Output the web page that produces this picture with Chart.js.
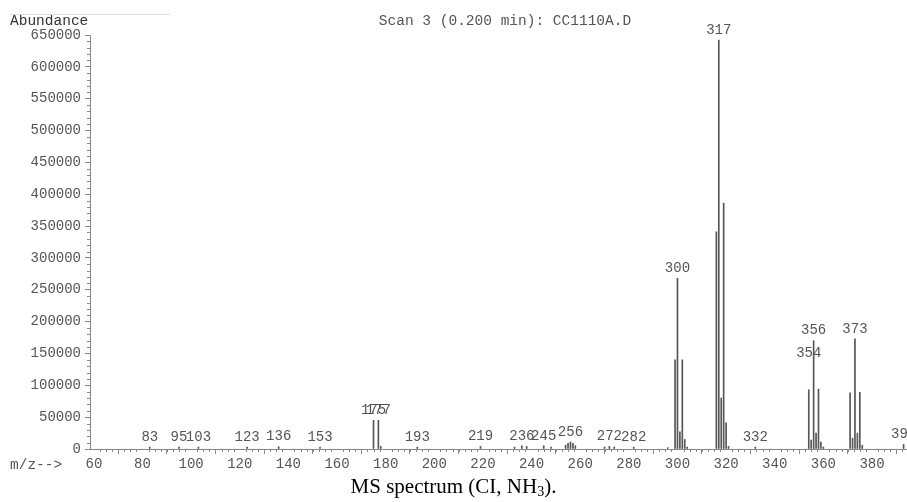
<!DOCTYPE html>
<html lang="en">
  <head>
    <meta charset="UTF-8" />
    <title>MS spectrum</title>
    <script src="https://cdn.jsdelivr.net/npm/chart.js"></script>
    <style>
      body { margin: 0; background: #fff; }
      #wrap { position: relative; width: 907px; height: 502px; }
      #spec { position: absolute; left: 0; top: 0; }
      #caption {
        position: absolute; left: 0; width: 907px; top: 474px;
        text-align: center; font: 21px "Liberation Serif", serif; color: #000;
      }
      #caption sub { font-size: 14px; vertical-align: -3px; line-height: 0; }
    </style>
  </head>
  <body>
    <div id="wrap">
      <canvas id="spec" width="907" height="502"></canvas>
      <div id="caption">MS spectrum (CI, NH<sub>3</sub>).</div>
    </div>

    <script>
      // m/z of each line and its abundance
      const mz = [
        83, 95, 103, 123, 136, 153, 175, 177, 178, 193, 219,
        233, 236, 238, 245, 248, 254, 255, 256, 257, 258, 270, 272, 274, 282, 296,
        299, 300, 301, 302, 303, 304, 316, 317, 318, 319, 320, 321, 332,
        354, 355, 356, 357, 358, 359, 360, 371, 372, 373, 374, 375, 376, 393
      ];
      const abundance = [
        3000, 3000, 3000, 3000, 3500, 3000, 45000, 45000, 4000, 3000, 4000,
        3000, 5000, 4000, 5000, 3000, 6000, 9000, 11000, 9000, 5000, 3000, 4000, 3000, 3000, 2000,
        140000, 268000, 27000, 140000, 15000, 3000, 341000, 642000, 80000, 386000, 41000, 4000, 3000,
        93000, 14000, 170000, 25000, 94000, 11000, 3000, 88000, 17000, 173000, 25000, 89000, 6000, 7000
      ];
      // lines that carry an m/z label
      const labelMz = [83, 95, 103, 123, 136, 153, 175, 177, 193, 219, 236, 245, 256,
        272, 282, 300, 317, 332, 354, 356, 373, 393];
      const xTicks = [60, 80, 100, 120, 140, 160, 180, 200, 220, 240, 260, 280, 300, 320, 340, 360, 380];
      const title = "Scan 3 (0.200 min): CC1110A.D";

      const MONO = '"Liberation Mono", "DejaVu Sans Mono", monospace';
      const ink = "#555";

      const peaks = mz.map((m, i) => ({ x: m, y: abundance[i] }));

      // text and minor ticks drawn straight onto the canvas
      const extras = {
        id: "extras",
        afterDraw(chart) {
          const { ctx, scales } = chart;
          const xs = scales.x, ys = scales.y;
          ctx.save();

          // minor ticks
          ctx.strokeStyle = "#888";
          ctx.lineWidth = 1;
          ctx.beginPath();
          for (let v = 0; v <= 650000; v += 10000) {
            if (v % 50000 === 0) continue;
            const y = Math.round(ys.getPixelForValue(v)) + 0.5;
            ctx.moveTo(xs.left - 3, y);
            ctx.lineTo(xs.left, y);
          }
          for (let v = 60; v <= 395; v += 2.5) {
            if (v % 20 === 0) continue;
            const x = Math.round(xs.getPixelForValue(v)) + 0.5;
            ctx.moveTo(x, ys.bottom);
            ctx.lineTo(x, ys.bottom + 3);
          }
          ctx.stroke();

          // peak labels
          ctx.font = "14px " + MONO;
          ctx.fillStyle = ink;
          ctx.textAlign = "center";
          ctx.textBaseline = "bottom";
          const lift = { 354: 26 };
          labelMz.forEach((m) => {
            const a = abundance[mz.indexOf(m)];
            const x = xs.getPixelForValue(m);
            const y = ys.getPixelForValue(a) - 3 - (lift[m] || 0);
            ctx.fillText(String(m), x, y);
          });

          // header and axis captions
          ctx.font = "14.5px " + MONO;
          ctx.fillStyle = "#333";
          ctx.textAlign = "left";
          ctx.textBaseline = "middle";
          ctx.fillText("Abundance", 10, 21);
          ctx.fillStyle = ink;
          ctx.fillText("m/z-->", 10, 465);
          ctx.textAlign = "center";
          ctx.fillText(title, 505, 21);

          ctx.strokeStyle = "#ddd";
          ctx.beginPath();
          ctx.moveTo(10, 14.5);
          ctx.lineTo(170, 14.5);
          ctx.stroke();
          ctx.restore();
        },
      };

      new Chart(document.getElementById("spec"), {
        type: "bar",
        data: {
          datasets: [
            {
              data: peaks,
              backgroundColor: "#555",
              barThickness: 1,
            },
          ],
        },
        plugins: [extras],
        options: {
          responsive: false,
          animation: false,
          layout: { padding: { top: 35, bottom: 28, left: 0, right: 0 } },
          plugins: { legend: { display: false }, tooltip: { enabled: false } },
          scales: {
            x: {
              type: "linear",
              offset: false,
              min: 58.4,
              max: 394.4,
              afterBuildTicks: (s) => {
                s.ticks = xTicks.map((v) => ({ value: v }));
              },
              afterFit: (s) => {
                s.height = 25;
              },
              grid: { display: true, drawOnChartArea: false, tickLength: 5, color: "#888" },
              border: { color: "#888" },
              ticks: {
                autoSkip: false,
                maxRotation: 0,
                padding: 2,
                color: ink,
                font: { family: MONO, size: 14 },
              },
            },
            y: {
              min: 0,
              max: 650000,
              afterFit: (s) => {
                s.width = 90;
              },
              grid: { display: true, drawOnChartArea: false, tickLength: 5, color: "#888" },
              border: { color: "#888" },
              ticks: {
                stepSize: 50000,
                padding: 4,
                color: ink,
                font: { family: MONO, size: 14 },
                callback: (v) => String(v),
              },
            },
          },
        },
      });
    </script>
  </body>
</html>
